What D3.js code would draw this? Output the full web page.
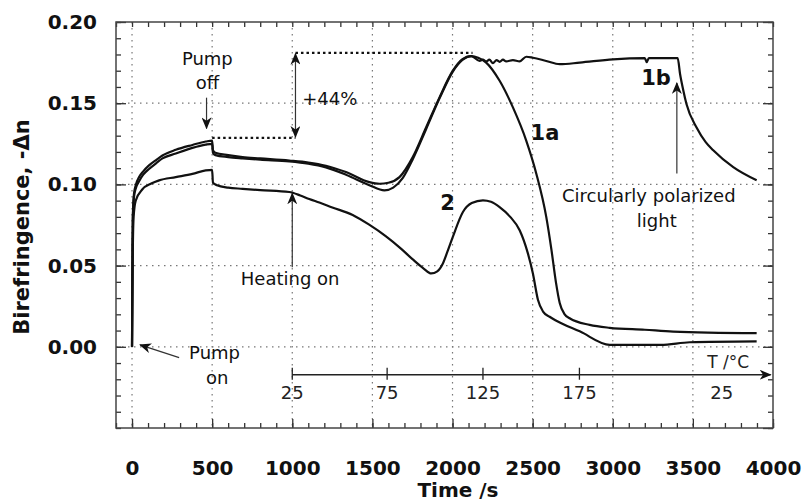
<!DOCTYPE html>
<html>
<head>
<meta charset="utf-8">
<script src="https://cdn.jsdelivr.net/npm/d3@7"></script>
<style>
  body { margin: 0; background: #fff; }
  svg { display: block; font-family: "DejaVu Sans", sans-serif; }
</style>
</head>
<body>
<svg id="chart" width="804" height="502"></svg>
<script>
const WIDTH = 804;
const HEIGHT = 502;
const LEFT = 116, RIGHT = 773, TOP = 22, BOTTOM = 428;

// axis ticks
const xTicks = [0, 500, 1000, 1500, 2000, 2500, 3000, 3500, 4000];
const yTicks = [0.0, 0.05, 0.1, 0.15, 0.2];

// temperature scale drawn inside the plot (time position -> label)
const tempTimes = [1000, 1592, 2190, 2792, 3680];
const tempLabels = ["25", "75", "125", "175", "25"];

// curve 1a
const time1a = [0, 3, 5, 12, 25, 44, 70, 106, 150, 190, 273, 377, 460, 500, 505, 520, 600, 690, 800, 981,
  1100, 1210, 1335, 1481, 1544, 1600, 1669, 1752, 1835, 1919, 2002, 2060, 2117, 2160, 2210, 2294, 2377, 2460, 2523, 2585,
  2617, 2645, 2669, 2700, 2731, 2856, 2981, 3200, 3377, 3898];
const value1a = [0, 0.06, 0.08, 0.094, 0.1, 0.1045, 0.108, 0.1117, 0.115, 0.1178, 0.1213, 0.1243, 0.1264, 0.127, 0.121, 0.1195, 0.118, 0.1168, 0.116, 0.1147,
  0.1135, 0.1115, 0.1076, 0.1014, 0.1004, 0.101, 0.1045, 0.1168, 0.135, 0.1536, 0.17, 0.177, 0.179, 0.178, 0.175, 0.1638, 0.1474, 0.127, 0.1066, 0.08,
  0.06, 0.04, 0.027, 0.02, 0.0176, 0.0135, 0.0117, 0.0105, 0.0094, 0.0084];

// curve 1b
const time1b = [0, 3, 5, 12, 25, 44, 70, 106, 150, 190, 273, 377, 460, 500, 505, 520, 600, 690, 800, 981,
  1100, 1210, 1335, 1481, 1575, 1630, 1690, 1752, 1835, 1919, 2002, 2060, 2117, 2169, 2190, 2210, 2230, 2252, 2275, 2294,
  2315, 2335, 2377, 2419, 2460, 2502, 2585, 2669, 2794, 3002, 3200, 3212, 3225, 3405, 3420, 3440, 3460, 3523, 3580, 3627,
  3752, 3898];
const value1b = [0, 0.06, 0.078, 0.092, 0.098, 0.102, 0.106, 0.1095, 0.113, 0.116, 0.119, 0.1225, 0.1245, 0.125, 0.1195, 0.118, 0.1168, 0.116, 0.1152, 0.1142,
  0.1128, 0.1105, 0.106, 0.0995, 0.0963, 0.098, 0.104, 0.1155, 0.134, 0.153, 0.1695, 0.1765, 0.179, 0.176, 0.1768, 0.1757, 0.1768, 0.1747, 0.1765, 0.1755,
  0.1768, 0.1757, 0.1765, 0.1757, 0.1786, 0.178, 0.176, 0.174, 0.175, 0.177, 0.1777, 0.1753, 0.1777, 0.1777, 0.168, 0.158, 0.1495, 0.135, 0.126, 0.121,
  0.1106, 0.1025];

// curve 2
const time2 = [0, 5, 10, 23, 65, 120, 169, 273, 377, 460, 500, 505, 530, 600, 690, 800, 981, 1050, 1106, 1169,
  1250, 1377, 1480, 1585, 1680, 1752, 1820, 1867, 1905, 1940, 1970, 2002, 2065, 2120, 2190, 2240, 2294, 2360, 2419, 2469,
  2502, 2533, 2565, 2606, 2648, 2794, 2981, 3300, 3481, 3898];
const value2 = [0, 0.06, 0.08, 0.09, 0.097, 0.1005, 0.1025, 0.1045, 0.1065, 0.1086, 0.109, 0.101, 0.0995, 0.098, 0.0973, 0.0965, 0.0953, 0.0932, 0.091, 0.0888,
  0.0858, 0.0812, 0.0752, 0.068, 0.0603, 0.0538, 0.0482, 0.0452, 0.0465, 0.0513, 0.059, 0.0677, 0.083, 0.0885, 0.0902, 0.0893, 0.086, 0.08, 0.0718, 0.058,
  0.045, 0.029, 0.0217, 0.0185, 0.016, 0.0095, 0.0012, 0.0012, 0.0028, 0.0033];

const svg = d3.select("#chart");

const x = d3.scaleLinear().domain([-100, 4000]).range([LEFT, RIGHT]);
const y = d3.scaleLinear().domain([-0.05, 0.2]).range([BOTTOM, TOP]);

// arrow head used by all the annotations
svg.append("defs").append("marker")
  .attr("id", "arrow")
  .attr("viewBox", "0 0 12 10")
  .attr("refX", 11).attr("refY", 5)
  .attr("markerWidth", 12).attr("markerHeight", 10)
  .attr("markerUnits", "userSpaceOnUse")
  .attr("orient", "auto-start-reverse")
  .append("path")
  .attr("d", "M0,0 L12,5 L0,10 L3.5,5 Z")
  .attr("fill", "#111");

// dotted grid
const gridX = d3.range(0, 4000, 500);
const gridY = [0, 0.05, 0.1, 0.15];
svg.append("g").selectAll("line").data(gridX).join("line")
  .attr("x1", d => x(d)).attr("x2", d => x(d))
  .attr("y1", TOP).attr("y2", BOTTOM)
  .attr("stroke", "#777").attr("stroke-width", 1.2).attr("stroke-dasharray", "1.5,4.5");
svg.append("g").selectAll("line").data(gridY).join("line")
  .attr("x1", LEFT).attr("x2", RIGHT)
  .attr("y1", d => y(d)).attr("y2", d => y(d))
  .attr("stroke", "#777").attr("stroke-width", 1.2).attr("stroke-dasharray", "1.5,4.5");

// frame ticks (inward), minor and major
const minorX = d3.range(-100, 4001, 100);
const minorY = d3.range(-0.05, 0.2001, 0.01);
const tickStyle = g => {
  g.select(".domain").remove();
  g.selectAll("line").attr("stroke", "#333").attr("stroke-width", 1.3);
};

svg.append("g").attr("transform", `translate(0,${BOTTOM})`)
  .call(d3.axisBottom(x).tickValues(minorX).tickSizeInner(-5).tickSizeOuter(0).tickFormat(""))
  .call(tickStyle);
svg.append("g").attr("transform", `translate(0,${TOP})`)
  .call(d3.axisTop(x).tickValues(minorX).tickSizeInner(-5).tickSizeOuter(0).tickFormat(""))
  .call(tickStyle);
svg.append("g").attr("transform", `translate(${LEFT},0)`)
  .call(d3.axisLeft(y).tickValues(minorY).tickSizeInner(-5).tickSizeOuter(0).tickFormat(""))
  .call(tickStyle);
svg.append("g").attr("transform", `translate(${RIGHT},0)`)
  .call(d3.axisRight(y).tickValues(minorY).tickSizeInner(-5).tickSizeOuter(0).tickFormat(""))
  .call(tickStyle);

const xAxis = svg.append("g").attr("transform", `translate(0,${BOTTOM})`)
  .call(d3.axisBottom(x).tickValues(xTicks).tickSizeInner(-9).tickSizeOuter(0).tickPadding(33).tickFormat(d3.format("d")))
  .call(tickStyle);
const yAxis = svg.append("g").attr("transform", `translate(${LEFT},0)`)
  .call(d3.axisLeft(y).tickValues(yTicks).tickSizeInner(-10).tickSizeOuter(0).tickPadding(19).tickFormat(d3.format(".2f")))
  .call(tickStyle);
svg.append("g").attr("transform", `translate(${RIGHT},0)`)
  .call(d3.axisRight(y).tickValues(d3.range(-0.05, 0.2001, 0.05)).tickSizeInner(-10).tickSizeOuter(0).tickFormat(""))
  .call(tickStyle);

[xAxis, yAxis].forEach(g => g.selectAll("text")
  .attr("fill", "#111")
  .style("font-size", "20px")
  .style("font-weight", "bold")
  .style("font-family", "'DejaVu Sans', sans-serif"));

// frame
svg.append("rect")
  .attr("x", LEFT).attr("y", TOP)
  .attr("width", RIGHT - LEFT).attr("height", BOTTOM - TOP)
  .attr("fill", "none").attr("stroke", "#444").attr("stroke-width", 1.5);

// axis titles
svg.append("text")
  .attr("transform", `translate(29,227) rotate(-90)`)
  .attr("text-anchor", "middle")
  .style("font-size", "21px").style("font-weight", "bold").attr("fill", "#111")
  .text("Birefringence, -Δn");
svg.append("text")
  .attr("x", 458).attr("y", 497)
  .attr("text-anchor", "middle")
  .style("font-size", "20px").style("font-weight", "bold").attr("fill", "#111")
  .text("Time /s");

// temperature axis
const tempY = y(-0.0172);
svg.append("line")
  .attr("x1", x(tempTimes[0])).attr("x2", x(3985))
  .attr("y1", tempY).attr("y2", tempY)
  .attr("stroke", "#222").attr("stroke-width", 1.3)
  .attr("marker-end", "url(#arrow)");
svg.append("g").selectAll("line").data(tempTimes.slice(0, 4)).join("line")
  .attr("x1", d => x(d)).attr("x2", d => x(d))
  .attr("y1", tempY - 7).attr("y2", tempY + 5)
  .attr("stroke", "#222").attr("stroke-width", 1.3);
svg.append("g").selectAll("text").data(tempTimes).join("text")
  .attr("x", d => x(d)).attr("y", y(-0.028) + 7)
  .attr("text-anchor", "middle")
  .style("font-size", "18px").attr("fill", "#222")
  .text((d, i) => tempLabels[i]);
svg.append("text")
  .attr("x", x(3720)).attr("y", y(-0.0092) + 6)
  .attr("text-anchor", "middle")
  .style("font-size", "17px").attr("fill", "#222")
  .text("T /°C");

// reference dotted levels and +44% arrow
const dotted = (t1, t2, v) => svg.append("line")
  .attr("x1", x(t1)).attr("x2", x(t2)).attr("y1", y(v)).attr("y2", y(v))
  .attr("stroke", "#111").attr("stroke-width", 2.2).attr("stroke-dasharray", "2.5,3");
dotted(500, 1020, 0.1287);
dotted(1020, 2125, 0.181);
svg.append("line")
  .attr("x1", x(1020)).attr("x2", x(1020))
  .attr("y1", y(0.1805)).attr("y2", y(0.1292))
  .attr("stroke", "#333").attr("stroke-width", 1.2)
  .attr("marker-start", "url(#arrow)").attr("marker-end", "url(#arrow)");

// curves
const line = d3.line()
  .x(d => x(d[0]))
  .y(d => y(d[1]))
  .curve(d3.curveMonotoneX);

[[time1a, value1a], [time1b, value1b], [time2, value2]].forEach(([t, v]) => {
  svg.append("path")
    .datum(t.map((d, i) => [d, v[i]]))
    .attr("d", line)
    .attr("fill", "none")
    .attr("stroke", "#111")
    .attr("stroke-width", 2.2)
    .attr("stroke-linejoin", "round");
});

// annotations
const label = (t, v, txt, size, bold, anchor) => svg.append("text")
  .attr("x", x(t)).attr("y", y(v) + size * 0.36)
  .attr("text-anchor", anchor || "middle")
  .style("font-size", size + "px")
  .style("font-weight", bold ? "bold" : "normal")
  .attr("fill", "#111")
  .text(txt);
const pointer = (t1, v1, t2, v2) => svg.append("line")
  .attr("x1", x(t1)).attr("y1", y(v1)).attr("x2", x(t2)).attr("y2", y(v2))
  .attr("stroke", "#333").attr("stroke-width", 1.2)
  .attr("marker-end", "url(#arrow)");

label(470, 0.1773, "Pump", 18);
label(470, 0.1626, "off", 18);
pointer(465, 0.1534, 465, 0.1345);

label(1062, 0.1528, "+44%", 18, false, "start");

label(987, 0.0423, "Heating on", 18);
pointer(1000, 0.049, 1000, 0.0945);

label(515, -0.0037, "Pump", 18);
label(531, -0.019, "on", 18);
pointer(294, -0.0067, 50, 0.0012);

label(2487, 0.132, "1a", 21, true, "start");
label(1969, 0.089, "2", 21, true);
label(3270, 0.1656, "1b", 21, true);
pointer(3400, 0.1067, 3400, 0.1625);

label(3225, 0.0933, "Circularly polarized", 18);
label(3275, 0.078, "light", 18);
</script>
</body>
</html>
